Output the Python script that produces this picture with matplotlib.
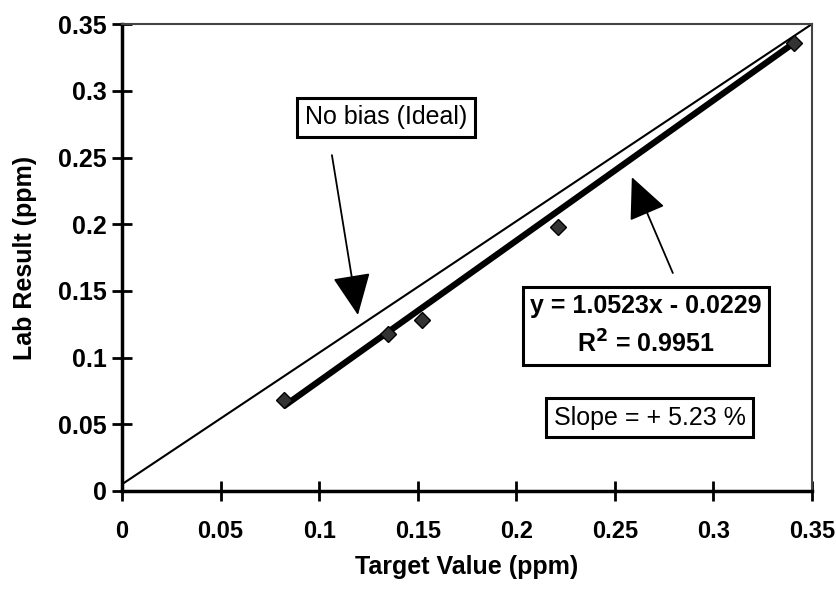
import matplotlib.pyplot as plt
import numpy as np

plt.rcParams['font.family'] = ['Liberation Sans', 'DejaVu Sans']

# measured points (target vs lab result)
target = [0.082, 0.135, 0.152, 0.221, 0.341]
lab = [0.068, 0.118, 0.128, 0.198, 0.336]

# ideal line (no bias)
ideal_x = [0.0, 0.35]
ideal_y = [0.005, 0.35]

# linear fit from the chart
slope = 1.0523
intercept = -0.0229

ticks = [0, 0.05, 0.1, 0.15, 0.2, 0.25, 0.3, 0.35]
tick_labels = ['0', '0.05', '0.1', '0.15', '0.2', '0.25', '0.3', '0.35']

fig = plt.figure(figsize=(8.36, 5.9), dpi=100)
ax = fig.add_axes([0.146, 0.168, 0.825, 0.791])

ax.plot(ideal_x, ideal_y, color='black', lw=1.5)

fit_x = np.array([target[0], target[-1]])
ax.plot(fit_x, slope * fit_x + intercept, color='black', lw=4.5, solid_capstyle='butt')
ax.plot(target, lab, linestyle='none', marker='D', markersize=8,
        markerfacecolor='#333333', markeredgecolor='black')

ax.set_xlim(0, 0.35)
ax.set_ylim(0, 0.35)
ax.set_xticks(ticks)
ax.set_xticklabels(tick_labels)
ax.set_yticks(ticks)
ax.set_yticklabels(tick_labels)
ax.tick_params(direction='inout', length=14, width=2)
ax.tick_params(axis='x', pad=14, labelsize=17)
ax.tick_params(axis='y', pad=4, labelsize=18)
for lbl in ax.get_xticklabels() + ax.get_yticklabels():
    lbl.set_fontweight('bold')

for side in ['left', 'bottom']:
    ax.spines[side].set_linewidth(2.5)
for side in ['top', 'right']:
    ax.spines[side].set_linewidth(1.5)
    ax.spines[side].set_color('#444444')

ax.set_xlabel('Target Value (ppm)', fontsize=18, fontweight='bold')
ax.set_ylabel('Lab Result (ppm)', fontsize=18, fontweight='bold')
ax.xaxis.set_label_coords(0.5, -0.137)
ax.yaxis.set_label_coords(-0.123, 0.5)

box = dict(boxstyle='square,pad=0.3', facecolor='white', edgecolor='black', linewidth=2.2)
arrow = dict(arrowstyle='-|>,head_length=1.3,head_width=0.6',
             mutation_scale=20, color='black', lw=1.3, shrinkA=0, shrinkB=0)

ax.text(0.1339, 0.2803, 'No bias (Ideal)', fontsize=18, ha='center', va='center', bbox=box)
ax.annotate('', xy=(0.1197, 0.1319), xytext=(0.1065, 0.2518), arrowprops=arrow)

ax.text(0.2658, 0.1237, 'y = 1.0523x - 0.0229\nR$^{\\mathbf{2}}$ = 0.9951', fontsize=18,
        fontweight='bold', ha='center', va='center', linespacing=1.55, bbox=box)
ax.annotate('', xy=(0.2587, 0.2353), xytext=(0.2795, 0.1634), arrowprops=arrow)

ax.text(0.2678, 0.0547, 'Slope = + 5.23 %', fontsize=18, ha='center', va='center', bbox=box)

fig.savefig('out.png', dpi=100)
